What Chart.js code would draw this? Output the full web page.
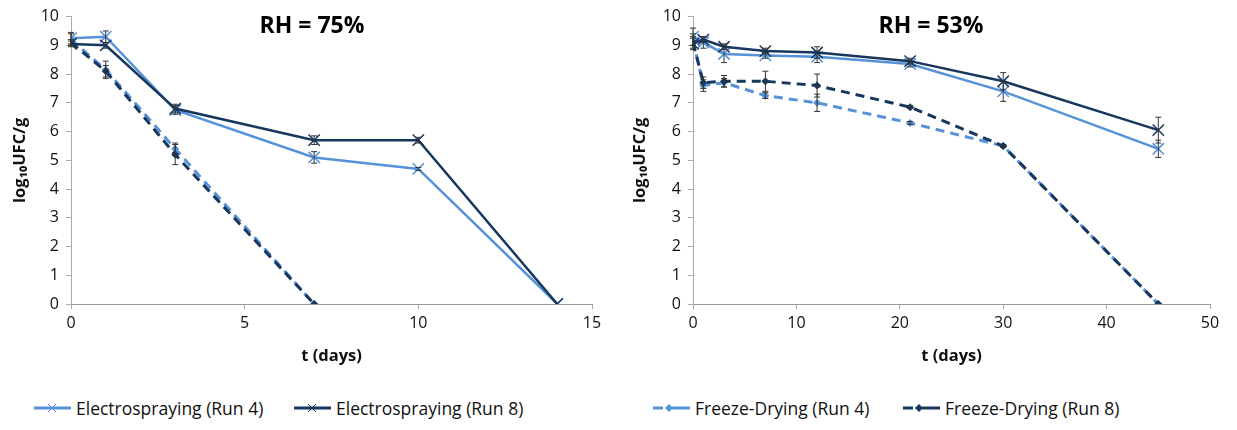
<!DOCTYPE html>
<html>
<head>
<meta charset="utf-8">
<script src="https://cdn.jsdelivr.net/npm/chart.js@4.4.1/dist/chart.umd.min.js"></script>
<style>
  body { margin: 0; background: #fff; width: 1237px; height: 430px; overflow: hidden; font-family: "Open Sans", sans-serif; }
  .box { position: absolute; top: 0; height: 370px; }
  .titolo { position: absolute; top: 8px; font-weight: bold; font-size: 23px; color: #000; transform: translateX(-50%); white-space: nowrap; }
  #legenda { position: absolute; top: 396px; left: 0; width: 1237px; height: 28px; font-size: 17.5px; color: #111; }
  .voce { position: absolute; top: 0; display: flex; align-items: center; white-space: nowrap; }
  .voce svg { margin-right: 3px; }
</style>
</head>
<body>
<div class="box" style="left:0;width:610px"><canvas id="chart-75"></canvas></div>
<div class="box" style="left:620px;width:617px"><canvas id="chart-53"></canvas></div>
<div class="titolo" style="left:312px">RH = 75%</div>
<div class="titolo" style="left:931px">RH = 53%</div>
<div id="legenda"></div>

<script>
// Colori delle serie
const chiaro = '#5592d8';
const scuro = '#17375e';

const etichette = ['Electrospraying (Run 4)', 'Electrospraying (Run 8)', 'Freeze-Drying (Run 4)', 'Freeze-Drying (Run 8)'];

// RH = 75%
const giorniES75 = [0, 1, 3, 7, 10, 14];
const es4_75 = [9.25, 9.3, 6.75, 5.1, 4.7, 0];
const es4_75err = [0.2, 0.2, 0.15, 0.2, 0.05, 0];
const es8_75 = [9.05, 9.0, 6.8, 5.7, 5.7, 0];
const es8_75err = [0.1, 0.1, 0.15, 0.15, 0.1, 0];
const giorniFD75 = [0, 1, 3, 7];
const fd4_75 = [9.2, 8.15, 5.4, 0];
const fd4_75err = [0.2, 0.3, 0.2, 0];
const fd8_75 = [9.1, 8.1, 5.2, 0];
const fd8_75err = [0.1, 0.2, 0.35, 0];

// RH = 53%
const giorni53 = [0, 1, 3, 7, 12, 21, 30, 45];
const es4_53 = [9.3, 9.1, 8.7, 8.65, 8.6, 8.35, 7.4, 5.4];
const es4_53err = [0.3, 0.2, 0.3, 0.1, 0.2, 0.1, 0.35, 0.3];
const es8_53 = [9.05, 9.2, 8.95, 8.8, 8.75, 8.45, 7.75, 6.05];
const es8_53err = [0.2, 0.1, 0.1, 0.1, 0.2, 0.1, 0.3, 0.45];
const fd4_53 = [9.2, 7.6, 7.7, 7.25, 7.0, 6.3, 5.5, 0];
const fd4_53err = [0.2, 0.2, 0.15, 0.1, 0.3, 0.05, 0.05, 0];
const fd8_53 = [9.1, 7.7, 7.75, 7.75, 7.6, 6.85, 5.5, 0];
const fd8_53err = [0.2, 0.2, 0.2, 0.35, 0.4, 0.05, 0.05, 0];

function punti(xs, ys) {
    return xs.map((x, i) => ({ x: x, y: ys[i] }));
}

function serieES(label, colore, xs, ys, err) {
    return {
        label: label, data: punti(xs, ys), err: err,
        borderColor: colore, backgroundColor: colore, borderWidth: 2.5,
        pointStyle: 'crossRot', pointRadius: 8, pointBorderWidth: 1.5,
        tension: 0
    };
}

function serieFD(label, colore, xs, ys, err) {
    return {
        label: label, data: punti(xs, ys), err: err,
        borderColor: colore, backgroundColor: colore, borderWidth: 3,
        borderDash: [9, 6],
        pointStyle: 'rectRot', pointRadius: 4, pointBorderWidth: 0,
        tension: 0
    };
}

// Barre di errore disegnate sulle scale del grafico
const barreErrore = {
    id: 'barreErrore',
    afterDatasetsDraw(chart) {
        const ctx = chart.ctx;
        const sx = chart.scales.x, sy = chart.scales.y;
        ctx.save();
        ctx.strokeStyle = '#333';
        ctx.lineWidth = 1;
        chart.data.datasets.forEach(ds => {
            ds.data.forEach((p, i) => {
                const e = ds.err[i];
                if (!e) return;
                const x = sx.getPixelForValue(p.x);
                const y1 = sy.getPixelForValue(p.y - e);
                const y2 = sy.getPixelForValue(p.y + e);
                ctx.beginPath();
                ctx.moveTo(x, y1); ctx.lineTo(x, y2);
                ctx.moveTo(x - 3, y1); ctx.lineTo(x + 3, y1);
                ctx.moveTo(x - 3, y2); ctx.lineTo(x + 3, y2);
                ctx.stroke();
            });
        });
        ctx.restore();
    }
};

function disegna(id, datasets, maxX, passo, padDestra, largY) {
    const fontTick = { family: 'Open Sans', size: 16 };
    const fontTitolo = { family: 'Open Sans', size: 16.5, weight: 'bold' };
    return new Chart(document.getElementById(id), {
        type: 'line',
        data: { datasets: datasets },
        options: {
            responsive: true,
            maintainAspectRatio: false,
            animation: false,
            layout: { padding: { top: 15, right: padDestra, left: 0, bottom: 0 } },
            plugins: { legend: { display: false }, tooltip: { enabled: false } },
            scales: {
                x: {
                    type: 'linear', min: 0, max: maxX,
                    ticks: { stepSize: passo, color: '#111', font: fontTick, padding: 5 },
                    grid: { drawOnChartArea: false, tickLength: 5, color: '#aaa' },
                    border: { color: '#999', dash: [2, 2] },
                    title: { display: true, text: 't (days)', color: '#111', font: fontTitolo, padding: { top: 0 } },
                    afterFit(s) { s.height = 66; }
                },
                y: {
                    min: 0, max: 10,
                    ticks: { stepSize: 1, color: '#111', font: fontTick, padding: 7 },
                    grid: { drawOnChartArea: false, tickLength: 5, color: '#aaa' },
                    border: { color: '#aaa' },
                    title: { display: true, text: 'log₁₀UFC/g', color: '#111', font: fontTitolo, padding: { top: 10, bottom: 4 } },
                    afterFit(s) { s.width = largY; }
                }
            }
        },
        plugins: [barreErrore]
    });
}

// Ordine: la prima serie viene disegnata sopra
disegna('chart-75', [
    serieES(etichette[1], scuro, giorniES75, es8_75, es8_75err),
    serieES(etichette[0], chiaro, giorniES75, es4_75, es4_75err),
    serieFD(etichette[3], scuro, giorniFD75, fd8_75, fd8_75err),
    serieFD(etichette[2], chiaro, giorniFD75, fd4_75, fd4_75err)
], 15, 5, 18, 71);

disegna('chart-53', [
    serieES(etichette[1], scuro, giorni53, es8_53, es8_53err),
    serieES(etichette[0], chiaro, giorni53, es4_53, es4_53err),
    serieFD(etichette[3], scuro, giorni53, fd8_53, fd8_53err),
    serieFD(etichette[2], chiaro, giorni53, fd4_53, fd4_53err)
], 50, 10, 27, 73);

// Legenda comune in HTML
const posizioni = [33, 293, 652, 902];
const legenda = document.getElementById('legenda');
etichette.forEach((testo, i) => {
    const colore = (i % 2 === 0) ? chiaro : scuro;
    const tratteggio = i >= 2;
    let svg = '<svg width="40" height="14">';
    if (tratteggio) {
        svg += '<line x1="1" y1="7" x2="11" y2="7" stroke="' + colore + '" stroke-width="3"/>';
        svg += '<line x1="20" y1="7" x2="38" y2="7" stroke="' + colore + '" stroke-width="3"/>';
        svg += '<polygon points="17,3 21,7 17,11 13,7" fill="' + colore + '"/>';
    } else {
        svg += '<line x1="1" y1="7" x2="38" y2="7" stroke="' + colore + '" stroke-width="3"/>';
        svg += '<path d="M15,3 L23,11 M23,3 L15,11" stroke="' + colore + '" stroke-width="1"/>';
    }
    svg += '</svg>';
    const div = document.createElement('div');
    div.className = 'voce';
    div.style.left = posizioni[i] + 'px';
    div.innerHTML = svg + '<span>' + testo + '</span>';
    legenda.appendChild(div);
});
</script>
</body>
</html>
